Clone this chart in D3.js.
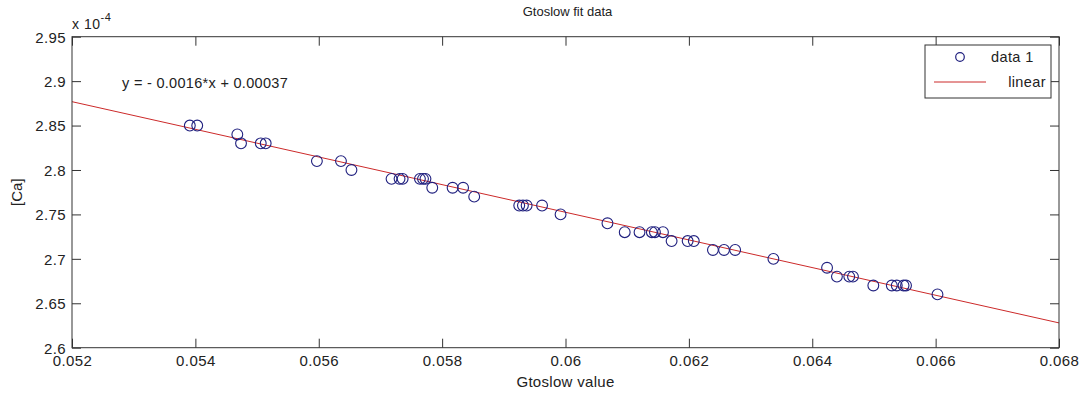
<!DOCTYPE html>
<html>
<head>
<meta charset="utf-8">
<script src="https://cdn.jsdelivr.net/npm/d3@7"></script>
<style>
  body { margin: 0; background: #fff; }
  svg text { font-family: "Liberation Sans", Arial, sans-serif; fill: #222; }
</style>
</head>
<body>
<svg id="chart" width="1085" height="394"></svg>
<script>
// data, y values are in units of 1e-4
var gto = [0.05391, 0.05403, 0.05468, 0.05474, 0.05506, 0.05514, 0.05597, 0.05636,
           0.05653, 0.05718, 0.05731, 0.05736, 0.05764, 0.05769, 0.05773, 0.05784,
           0.05817, 0.05834, 0.05852, 0.05925, 0.05931, 0.05937, 0.05962, 0.05992,
           0.06068, 0.06096, 0.06120, 0.06140, 0.06145, 0.06158, 0.06172, 0.06198,
           0.06208, 0.06239, 0.06257, 0.06275, 0.06337, 0.06424, 0.06440, 0.06460,
           0.06466, 0.06499, 0.06529, 0.06537, 0.06548, 0.06552, 0.06603];
var ca = [2.85, 2.85, 2.84, 2.83, 2.83, 2.83, 2.81, 2.81,
          2.80, 2.79, 2.79, 2.79, 2.79, 2.79, 2.79, 2.78,
          2.78, 2.78, 2.77, 2.76, 2.76, 2.76, 2.76, 2.75,
          2.74, 2.73, 2.73, 2.73, 2.73, 2.73, 2.72, 2.72,
          2.72, 2.71, 2.71, 2.71, 2.70, 2.69, 2.68, 2.68,
          2.68, 2.67, 2.67, 2.67, 2.67, 2.67, 2.66];

// linear fit (slope, intercept) in the same 1e-4 units
var fit = [-15.56, 3.686];

var x_ticks = [0.052, 0.054, 0.056, 0.058, 0.06, 0.062, 0.064, 0.066, 0.068];
var y_ticks = [2.6, 2.65, 2.7, 2.75, 2.8, 2.85, 2.9, 2.95];
var legend_labels = ["data 1", "linear"];

var svg = d3.select("#chart");
var p_left = 72, p_right = 1059, p_top = 36.7, p_bottom = 347.7;
var tick_len = 9;
var axis_col = "#333";
var marker_col = "#20207f";
var line_col = "#cc2a2a";

var x = d3.scaleLinear().domain([0.052, 0.068]).range([p_left, p_right]);
var y = d3.scaleLinear().domain([2.6, 2.95]).range([p_bottom, p_top]);

function fmt(v) {
  return String(+v.toFixed(4));
}

svg.append("defs").append("clipPath").attr("id", "clip")
   .append("rect")
   .attr("x", p_left).attr("y", p_top)
   .attr("width", p_right - p_left).attr("height", p_bottom - p_top);

// fitted line
var xs = x.domain();
svg.append("line")
   .attr("clip-path", "url(#clip)")
   .attr("x1", x(xs[0])).attr("y1", y(fit[0] * xs[0] + fit[1]))
   .attr("x2", x(xs[1])).attr("y2", y(fit[0] * xs[1] + fit[1]))
   .attr("stroke", line_col).attr("stroke-width", 1);

// data points
svg.selectAll("circle.pt")
   .data(d3.range(gto.length))
   .enter().append("circle")
   .attr("class", "pt")
   .attr("cx", function (i) { return x(gto[i]); })
   .attr("cy", function (i) { return y(ca[i]); })
   .attr("r", 5.4)
   .attr("fill", "none")
   .attr("stroke", marker_col)
   .attr("stroke-width", 1.1);

// axes: bottom/left with labels, top/right only ticks, all inward
var xb = d3.axisBottom(x).tickValues(x_ticks).tickSize(-tick_len).tickFormat(fmt);
var xt = d3.axisTop(x).tickValues(x_ticks).tickSize(-tick_len).tickFormat("");
var yl = d3.axisLeft(y).tickValues(y_ticks).tickSize(-tick_len).tickFormat(fmt);
var yr = d3.axisRight(y).tickValues(y_ticks).tickSize(-tick_len).tickFormat("");

function style_axis(g) {
  g.select(".domain").remove();
  g.selectAll("line").attr("stroke", axis_col);
  g.selectAll("text").attr("fill", "#222")
   .style("font-family", "Liberation Sans, Arial, sans-serif")
   .style("font-size", "15px").style("letter-spacing", "0.4px");
}

svg.append("g").attr("transform", "translate(0," + p_bottom + ")").call(xb).call(style_axis)
   .selectAll("text").attr("y", 8).attr("dy", "0.71em");
svg.append("g").attr("transform", "translate(0," + p_top + ")").call(xt).call(style_axis);
svg.append("g").attr("transform", "translate(" + p_left + ",0)").call(yl).call(style_axis)
   .selectAll("text").attr("x", -6).attr("dy", "0.36em");
svg.append("g").attr("transform", "translate(" + p_right + ",0)").call(yr).call(style_axis);

// box
svg.append("rect")
   .attr("x", p_left).attr("y", p_top)
   .attr("width", p_right - p_left).attr("height", p_bottom - p_top)
   .attr("fill", "none").attr("stroke", axis_col).attr("stroke-width", 1);

// exponent label
var ex = svg.append("text").attr("x", p_left).attr("y", 29)
   .style("font-size", "14px").style("letter-spacing", "0.5px");
ex.append("tspan").text("x 10");
ex.append("tspan").attr("dy", -8).style("font-size", "11px").text("-4");

// titles
svg.append("text").attr("x", (p_left + p_right) / 2 + 2).attr("y", 16)
   .attr("text-anchor", "middle").style("font-size", "13px")
   .text("Gtoslow fit data");
svg.append("text").attr("x", (p_left + p_right) / 2).attr("y", 387)
   .attr("text-anchor", "middle").style("font-size", "15px").style("letter-spacing", "0.3px")
   .text("Gtoslow value");
svg.append("text")
   .attr("transform", "translate(22," + ((p_top + p_bottom) / 2) + ") rotate(-90)")
   .attr("text-anchor", "middle").style("font-size", "15px")
   .text("[Ca]");

// fit equation
svg.append("text").attr("x", 122).attr("y", 88)
   .style("font-size", "14.5px").style("letter-spacing", "0.3px")
   .text("y = - " + Math.abs(fit[0] * 1e-4).toFixed(4) + "*x + " + (fit[1] * 1e-4).toFixed(5));

// legend
var lg = svg.append("g");
lg.append("rect")
  .attr("x", 925).attr("y", 45).attr("width", 126).attr("height", 53)
  .attr("fill", "#fff").attr("stroke", axis_col).attr("stroke-width", 1);
lg.append("circle").attr("cx", 960).attr("cy", 57).attr("r", 4.3)
  .attr("fill", "none").attr("stroke", marker_col).attr("stroke-width", 1.2);
lg.append("line").attr("x1", 934).attr("x2", 986).attr("y1", 82).attr("y2", 82)
  .attr("stroke", line_col).attr("stroke-width", 1);
lg.append("text").attr("x", 991).attr("y", 62).style("font-size", "14.5px")
  .style("letter-spacing", "0.4px").text(legend_labels[0]);
lg.append("text").attr("x", 1046).attr("y", 87).attr("text-anchor", "end")
  .style("font-size", "14.5px").style("letter-spacing", "0.4px").text(legend_labels[1]);
</script>
</body>
</html>
